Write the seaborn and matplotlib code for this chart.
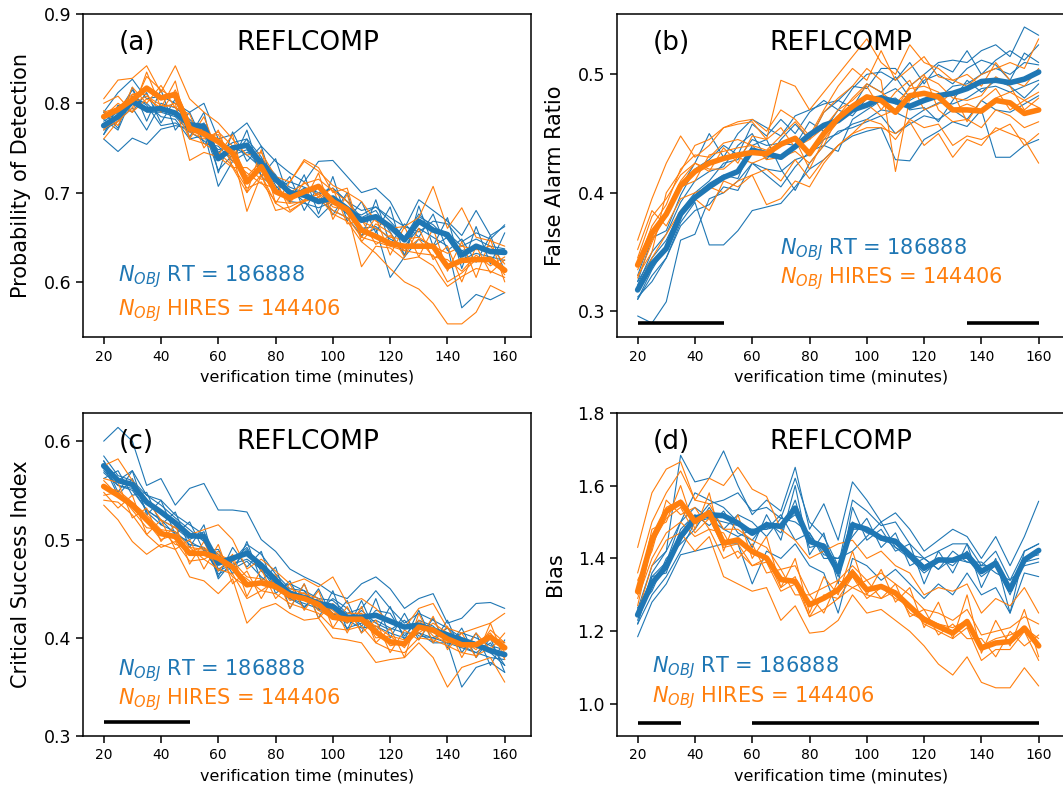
import matplotlib
matplotlib.use("Agg")
import matplotlib.pyplot as plt
import seaborn as sns
import pandas as pd

# ---------------------------------------------------------------- data
times = list(range(20, 161, 5))
runs = ["RT", "HIRES"]
run_colors = {"RT": "#1f77b4", "HIRES": "#ff7f0e"}
panel_tags = ["(a)", "(b)", "(c)", "(d)"]
field_name = "REFLCOMP"
ylabels = ["Probability of Detection", "False Alarm Ratio",
           "Critical Success Index", "Bias"]
xlabel = "verification time (minutes)"
n_obj = {"RT": 186888, "HIRES": 144406}

# ----- (a) probability of detection
pod_rt_mean = [0.775, 0.785, 0.802, 0.793, 0.794, 0.789, 0.776, 0.774, 0.738, 0.750,
               0.753, 0.733, 0.715, 0.700, 0.697, 0.690, 0.694, 0.682, 0.669, 0.673,
               0.662, 0.647, 0.668, 0.658, 0.653, 0.630, 0.640, 0.634, 0.633]
pod_hires_mean = [0.785, 0.793, 0.804, 0.817, 0.806, 0.810, 0.772, 0.766, 0.757, 0.744,
                  0.712, 0.729, 0.701, 0.694, 0.701, 0.707, 0.690, 0.681, 0.658, 0.651,
                  0.643, 0.640, 0.640, 0.640, 0.617, 0.624, 0.625, 0.625, 0.613]
pod_rt_members = [
    [0.760, 0.746, 0.761, 0.754, 0.771, 0.775, 0.772, 0.770, 0.725, 0.742, 0.748, 0.726, 0.712, 0.703, 0.690, 0.672, 0.688, 0.680, 0.675, 0.684, 0.668, 0.650, 0.676, 0.660, 0.655, 0.640, 0.648, 0.640, 0.637],
    [0.790, 0.812, 0.827, 0.805, 0.808, 0.800, 0.790, 0.800, 0.760, 0.765, 0.778, 0.752, 0.735, 0.722, 0.712, 0.735, 0.736, 0.718, 0.700, 0.705, 0.690, 0.660, 0.692, 0.680, 0.668, 0.652, 0.680, 0.652, 0.662],
    [0.770, 0.780, 0.795, 0.770, 0.800, 0.795, 0.782, 0.768, 0.707, 0.735, 0.745, 0.738, 0.720, 0.695, 0.705, 0.698, 0.705, 0.690, 0.672, 0.680, 0.656, 0.630, 0.673, 0.664, 0.648, 0.625, 0.632, 0.628, 0.624],
    [0.780, 0.790, 0.815, 0.790, 0.790, 0.785, 0.768, 0.778, 0.745, 0.756, 0.760, 0.740, 0.708, 0.690, 0.688, 0.683, 0.690, 0.676, 0.660, 0.662, 0.648, 0.640, 0.660, 0.650, 0.640, 0.571, 0.586, 0.580, 0.588],
    [0.765, 0.788, 0.805, 0.800, 0.785, 0.782, 0.760, 0.764, 0.748, 0.752, 0.742, 0.728, 0.718, 0.706, 0.700, 0.692, 0.680, 0.672, 0.652, 0.660, 0.605, 0.628, 0.648, 0.640, 0.650, 0.635, 0.640, 0.636, 0.636],
    [0.790, 0.772, 0.818, 0.780, 0.815, 0.770, 0.790, 0.755, 0.752, 0.735, 0.770, 0.718, 0.738, 0.690, 0.720, 0.676, 0.718, 0.668, 0.690, 0.655, 0.684, 0.628, 0.685, 0.640, 0.672, 0.615, 0.662, 0.620, 0.655],
    [0.765, 0.798, 0.790, 0.812, 0.778, 0.805, 0.762, 0.790, 0.722, 0.768, 0.735, 0.752, 0.700, 0.718, 0.680, 0.708, 0.675, 0.700, 0.650, 0.692, 0.642, 0.665, 0.650, 0.676, 0.635, 0.648, 0.622, 0.652, 0.612],
    [0.782, 0.770, 0.808, 0.798, 0.775, 0.778, 0.768, 0.758, 0.745, 0.740, 0.760, 0.718, 0.705, 0.712, 0.706, 0.700, 0.705, 0.690, 0.680, 0.684, 0.672, 0.662, 0.656, 0.668, 0.665, 0.645, 0.655, 0.648, 0.664],
]
pod_hires_members = [
    [0.805, 0.826, 0.828, 0.842, 0.812, 0.842, 0.805, 0.790, 0.778, 0.760, 0.742, 0.745, 0.718, 0.712, 0.735, 0.724, 0.708, 0.700, 0.690, 0.668, 0.660, 0.662, 0.672, 0.707, 0.660, 0.683, 0.650, 0.646, 0.640],
    [0.770, 0.788, 0.800, 0.808, 0.798, 0.796, 0.760, 0.755, 0.745, 0.730, 0.705, 0.712, 0.690, 0.688, 0.690, 0.695, 0.676, 0.668, 0.645, 0.632, 0.615, 0.600, 0.592, 0.576, 0.553, 0.553, 0.566, 0.596, 0.588],
    [0.760, 0.780, 0.795, 0.830, 0.815, 0.805, 0.775, 0.770, 0.760, 0.745, 0.679, 0.720, 0.688, 0.678, 0.690, 0.700, 0.684, 0.680, 0.617, 0.640, 0.638, 0.625, 0.628, 0.618, 0.595, 0.606, 0.615, 0.612, 0.605],
    [0.790, 0.795, 0.810, 0.815, 0.808, 0.812, 0.768, 0.760, 0.768, 0.752, 0.718, 0.735, 0.712, 0.700, 0.710, 0.715, 0.702, 0.690, 0.668, 0.660, 0.650, 0.648, 0.650, 0.640, 0.632, 0.640, 0.636, 0.640, 0.620],
    [0.785, 0.800, 0.790, 0.805, 0.795, 0.800, 0.736, 0.745, 0.740, 0.728, 0.700, 0.720, 0.680, 0.684, 0.692, 0.698, 0.680, 0.672, 0.650, 0.645, 0.640, 0.635, 0.632, 0.630, 0.600, 0.610, 0.625, 0.628, 0.608],
    [0.800, 0.808, 0.790, 0.835, 0.795, 0.825, 0.760, 0.785, 0.742, 0.765, 0.700, 0.748, 0.688, 0.712, 0.737, 0.728, 0.700, 0.705, 0.650, 0.672, 0.630, 0.662, 0.628, 0.660, 0.612, 0.645, 0.605, 0.648, 0.600],
    [0.772, 0.780, 0.818, 0.800, 0.820, 0.795, 0.788, 0.750, 0.770, 0.728, 0.728, 0.715, 0.715, 0.680, 0.690, 0.722, 0.670, 0.698, 0.645, 0.665, 0.655, 0.628, 0.660, 0.625, 0.640, 0.600, 0.640, 0.610, 0.625],
    [0.792, 0.775, 0.810, 0.810, 0.790, 0.815, 0.780, 0.762, 0.765, 0.735, 0.722, 0.710, 0.705, 0.688, 0.712, 0.695, 0.705, 0.665, 0.670, 0.642, 0.652, 0.635, 0.648, 0.628, 0.625, 0.612, 0.630, 0.618, 0.628],
]

# ----- (b) false alarm ratio
far_rt_mean = [0.318, 0.340, 0.353, 0.382, 0.396, 0.405, 0.413, 0.418, 0.436, 0.433,
               0.430, 0.439, 0.449, 0.457, 0.461, 0.470, 0.474, 0.480, 0.477, 0.473,
               0.478, 0.482, 0.484, 0.488, 0.494, 0.495, 0.493, 0.496, 0.502]
far_hires_mean = [0.339, 0.366, 0.382, 0.406, 0.418, 0.425, 0.429, 0.432, 0.434, 0.433,
                  0.441, 0.446, 0.433, 0.450, 0.463, 0.473, 0.481, 0.478, 0.468, 0.482,
                  0.484, 0.481, 0.470, 0.470, 0.469, 0.478, 0.476, 0.467, 0.470]
far_rt_members = [
    [0.296, 0.290, 0.308, 0.360, 0.365, 0.395, 0.400, 0.410, 0.425, 0.420, 0.418, 0.428, 0.432, 0.445, 0.450, 0.458, 0.462, 0.470, 0.468, 0.462, 0.470, 0.476, 0.475, 0.480, 0.488, 0.490, 0.485, 0.490, 0.495],
    [0.312, 0.325, 0.345, 0.375, 0.392, 0.356, 0.356, 0.368, 0.385, 0.388, 0.391, 0.405, 0.420, 0.428, 0.440, 0.448, 0.452, 0.455, 0.428, 0.427, 0.445, 0.452, 0.460, 0.456, 0.470, 0.430, 0.430, 0.440, 0.445],
    [0.330, 0.365, 0.380, 0.405, 0.425, 0.450, 0.430, 0.450, 0.462, 0.455, 0.448, 0.465, 0.470, 0.475, 0.478, 0.490, 0.488, 0.505, 0.505, 0.490, 0.500, 0.510, 0.512, 0.510, 0.520, 0.525, 0.515, 0.540, 0.533],
    [0.325, 0.345, 0.360, 0.385, 0.400, 0.410, 0.425, 0.428, 0.445, 0.440, 0.442, 0.440, 0.460, 0.452, 0.470, 0.465, 0.480, 0.482, 0.488, 0.478, 0.485, 0.480, 0.490, 0.492, 0.500, 0.505, 0.500, 0.510, 0.508],
    [0.310, 0.335, 0.355, 0.380, 0.398, 0.408, 0.415, 0.412, 0.440, 0.445, 0.420, 0.402, 0.425, 0.440, 0.435, 0.462, 0.470, 0.478, 0.480, 0.470, 0.472, 0.460, 0.478, 0.495, 0.485, 0.495, 0.490, 0.480, 0.492],
    [0.325, 0.362, 0.368, 0.398, 0.420, 0.428, 0.440, 0.432, 0.458, 0.448, 0.462, 0.450, 0.468, 0.478, 0.470, 0.488, 0.500, 0.502, 0.495, 0.510, 0.492, 0.508, 0.502, 0.520, 0.500, 0.512, 0.520, 0.512, 0.525],
    [0.310, 0.330, 0.345, 0.372, 0.385, 0.390, 0.405, 0.402, 0.425, 0.415, 0.405, 0.422, 0.435, 0.440, 0.452, 0.455, 0.460, 0.465, 0.450, 0.458, 0.465, 0.462, 0.470, 0.462, 0.478, 0.470, 0.468, 0.475, 0.482],
    [0.322, 0.350, 0.365, 0.392, 0.410, 0.418, 0.422, 0.440, 0.450, 0.428, 0.445, 0.458, 0.445, 0.468, 0.478, 0.472, 0.492, 0.485, 0.498, 0.480, 0.495, 0.500, 0.492, 0.505, 0.512, 0.508, 0.495, 0.518, 0.510],
]
far_hires_members = [
    [0.360, 0.395, 0.425, 0.448, 0.430, 0.440, 0.455, 0.458, 0.460, 0.445, 0.495, 0.490, 0.470, 0.485, 0.500, 0.515, 0.530, 0.510, 0.500, 0.525, 0.510, 0.505, 0.495, 0.490, 0.500, 0.505, 0.510, 0.505, 0.530],
    [0.340, 0.372, 0.390, 0.420, 0.432, 0.430, 0.442, 0.445, 0.440, 0.436, 0.448, 0.460, 0.445, 0.468, 0.480, 0.490, 0.505, 0.495, 0.418, 0.480, 0.498, 0.492, 0.480, 0.478, 0.482, 0.498, 0.490, 0.470, 0.480],
    [0.320, 0.345, 0.365, 0.385, 0.395, 0.385, 0.410, 0.405, 0.415, 0.390, 0.395, 0.410, 0.405, 0.425, 0.440, 0.450, 0.455, 0.455, 0.450, 0.460, 0.440, 0.450, 0.430, 0.445, 0.440, 0.455, 0.450, 0.445, 0.425],
    [0.345, 0.380, 0.395, 0.415, 0.425, 0.420, 0.420, 0.430, 0.425, 0.430, 0.440, 0.445, 0.420, 0.445, 0.460, 0.470, 0.475, 0.465, 0.470, 0.490, 0.500, 0.470, 0.460, 0.462, 0.455, 0.470, 0.465, 0.455, 0.460],
    [0.335, 0.360, 0.380, 0.405, 0.410, 0.432, 0.435, 0.438, 0.440, 0.428, 0.430, 0.435, 0.425, 0.440, 0.465, 0.480, 0.492, 0.485, 0.475, 0.488, 0.490, 0.485, 0.470, 0.475, 0.470, 0.480, 0.485, 0.478, 0.472],
    [0.330, 0.350, 0.400, 0.418, 0.440, 0.445, 0.455, 0.460, 0.462, 0.452, 0.470, 0.462, 0.448, 0.470, 0.490, 0.505, 0.495, 0.520, 0.495, 0.505, 0.515, 0.498, 0.495, 0.500, 0.490, 0.510, 0.495, 0.490, 0.505],
    [0.352, 0.385, 0.372, 0.395, 0.400, 0.405, 0.400, 0.410, 0.415, 0.420, 0.410, 0.428, 0.412, 0.428, 0.440, 0.450, 0.462, 0.458, 0.445, 0.462, 0.455, 0.458, 0.440, 0.448, 0.445, 0.452, 0.458, 0.440, 0.450],
    [0.328, 0.358, 0.385, 0.410, 0.425, 0.418, 0.438, 0.425, 0.448, 0.445, 0.455, 0.438, 0.445, 0.455, 0.470, 0.478, 0.490, 0.470, 0.485, 0.495, 0.470, 0.475, 0.485, 0.460, 0.478, 0.488, 0.470, 0.478, 0.485],
]

# ----- (c) critical success index
csi_rt_mean = [0.575, 0.560, 0.556, 0.538, 0.528, 0.517, 0.504, 0.503, 0.476, 0.481,
               0.486, 0.474, 0.459, 0.445, 0.441, 0.435, 0.432, 0.421, 0.421, 0.423,
               0.417, 0.411, 0.413, 0.408, 0.403, 0.398, 0.393, 0.387, 0.383]
csi_hires_mean = [0.554, 0.545, 0.535, 0.520, 0.506, 0.503, 0.486, 0.486, 0.481, 0.472,
                  0.454, 0.456, 0.452, 0.443, 0.440, 0.434, 0.421, 0.419, 0.419, 0.406,
                  0.396, 0.394, 0.411, 0.408, 0.399, 0.393, 0.393, 0.401, 0.390]
csi_rt_members = [
    [0.600, 0.614, 0.600, 0.555, 0.562, 0.535, 0.552, 0.557, 0.530, 0.530, 0.528, 0.500, 0.488, 0.470, 0.462, 0.455, 0.445, 0.440, 0.455, 0.462, 0.450, 0.430, 0.440, 0.445, 0.415, 0.420, 0.435, 0.436, 0.430],
    [0.580, 0.560, 0.570, 0.545, 0.540, 0.525, 0.515, 0.505, 0.460, 0.478, 0.495, 0.485, 0.465, 0.450, 0.448, 0.440, 0.438, 0.425, 0.430, 0.448, 0.430, 0.415, 0.425, 0.418, 0.410, 0.400, 0.395, 0.385, 0.372],
    [0.570, 0.555, 0.550, 0.530, 0.520, 0.505, 0.498, 0.490, 0.468, 0.475, 0.480, 0.470, 0.450, 0.440, 0.435, 0.430, 0.425, 0.410, 0.415, 0.418, 0.410, 0.405, 0.405, 0.395, 0.395, 0.350, 0.370, 0.375, 0.365],
    [0.575, 0.545, 0.562, 0.528, 0.515, 0.508, 0.495, 0.492, 0.465, 0.472, 0.490, 0.468, 0.455, 0.448, 0.442, 0.428, 0.430, 0.418, 0.410, 0.412, 0.405, 0.400, 0.405, 0.400, 0.395, 0.390, 0.385, 0.380, 0.378],
    [0.580, 0.548, 0.570, 0.525, 0.540, 0.505, 0.518, 0.488, 0.490, 0.465, 0.498, 0.458, 0.472, 0.430, 0.455, 0.420, 0.448, 0.408, 0.438, 0.405, 0.432, 0.398, 0.428, 0.395, 0.418, 0.385, 0.405, 0.372, 0.398],
    [0.562, 0.570, 0.545, 0.548, 0.515, 0.528, 0.492, 0.515, 0.462, 0.492, 0.472, 0.488, 0.445, 0.458, 0.430, 0.450, 0.420, 0.438, 0.405, 0.440, 0.400, 0.425, 0.398, 0.420, 0.390, 0.410, 0.380, 0.400, 0.365],
    [0.585, 0.565, 0.560, 0.545, 0.535, 0.522, 0.510, 0.498, 0.485, 0.470, 0.478, 0.462, 0.450, 0.455, 0.448, 0.428, 0.440, 0.430, 0.412, 0.428, 0.425, 0.402, 0.418, 0.412, 0.398, 0.405, 0.400, 0.392, 0.388],
    [0.568, 0.555, 0.552, 0.530, 0.520, 0.512, 0.500, 0.508, 0.470, 0.478, 0.492, 0.468, 0.462, 0.440, 0.432, 0.440, 0.425, 0.415, 0.428, 0.415, 0.408, 0.418, 0.402, 0.400, 0.410, 0.392, 0.385, 0.395, 0.372],
]
csi_hires_members = [
    [0.575, 0.582, 0.560, 0.540, 0.520, 0.512, 0.505, 0.510, 0.515, 0.500, 0.470, 0.480, 0.468, 0.455, 0.460, 0.452, 0.462, 0.435, 0.440, 0.430, 0.415, 0.410, 0.430, 0.435, 0.410, 0.405, 0.410, 0.415, 0.425],
    [0.535, 0.520, 0.498, 0.485, 0.495, 0.490, 0.462, 0.458, 0.445, 0.460, 0.415, 0.430, 0.435, 0.425, 0.418, 0.420, 0.400, 0.398, 0.395, 0.375, 0.378, 0.380, 0.395, 0.380, 0.350, 0.370, 0.375, 0.380, 0.355],
    [0.548, 0.532, 0.545, 0.505, 0.520, 0.490, 0.500, 0.470, 0.495, 0.455, 0.468, 0.440, 0.465, 0.430, 0.455, 0.420, 0.435, 0.405, 0.432, 0.395, 0.410, 0.380, 0.425, 0.395, 0.412, 0.380, 0.405, 0.388, 0.405],
    [0.562, 0.558, 0.522, 0.532, 0.498, 0.515, 0.475, 0.498, 0.468, 0.485, 0.442, 0.470, 0.440, 0.455, 0.428, 0.448, 0.410, 0.432, 0.405, 0.418, 0.385, 0.408, 0.398, 0.422, 0.388, 0.405, 0.380, 0.415, 0.378],
    [0.540, 0.538, 0.525, 0.505, 0.492, 0.498, 0.478, 0.480, 0.470, 0.465, 0.440, 0.448, 0.445, 0.435, 0.430, 0.425, 0.410, 0.408, 0.412, 0.395, 0.388, 0.385, 0.400, 0.398, 0.392, 0.385, 0.382, 0.390, 0.380],
    [0.545, 0.548, 0.530, 0.512, 0.510, 0.495, 0.492, 0.480, 0.488, 0.470, 0.460, 0.448, 0.458, 0.438, 0.442, 0.438, 0.428, 0.415, 0.425, 0.400, 0.402, 0.390, 0.418, 0.402, 0.395, 0.398, 0.388, 0.408, 0.395],
    [0.552, 0.550, 0.538, 0.525, 0.510, 0.508, 0.492, 0.490, 0.485, 0.478, 0.462, 0.460, 0.455, 0.450, 0.445, 0.440, 0.425, 0.422, 0.420, 0.412, 0.402, 0.398, 0.412, 0.410, 0.402, 0.398, 0.395, 0.402, 0.395],
    [0.560, 0.545, 0.535, 0.518, 0.500, 0.505, 0.488, 0.492, 0.482, 0.462, 0.452, 0.458, 0.455, 0.442, 0.446, 0.428, 0.420, 0.425, 0.425, 0.410, 0.392, 0.395, 0.405, 0.415, 0.405, 0.398, 0.395, 0.405, 0.385],
]

# ----- (d) frequency bias
bias_rt_mean = [1.245, 1.332, 1.378, 1.460, 1.511, 1.520, 1.517, 1.497, 1.469, 1.492,
                1.488, 1.538, 1.447, 1.433, 1.364, 1.492, 1.480, 1.456, 1.447, 1.410,
                1.373, 1.396, 1.395, 1.410, 1.364, 1.387, 1.314, 1.396, 1.422]
bias_hires_mean = [1.309, 1.451, 1.529, 1.554, 1.501, 1.526, 1.442, 1.451, 1.419, 1.401,
                   1.342, 1.337, 1.273, 1.291, 1.314, 1.360, 1.314, 1.323, 1.305, 1.268,
                   1.232, 1.213, 1.195, 1.227, 1.154, 1.168, 1.172, 1.209, 1.160]
bias_rt_members = [
    [1.260, 1.380, 1.420, 1.683, 1.610, 1.620, 1.695, 1.600, 1.520, 1.560, 1.530, 1.650, 1.480, 1.550, 1.450, 1.610, 1.560, 1.500, 1.525, 1.480, 1.420, 1.450, 1.480, 1.460, 1.400, 1.460, 1.380, 1.460, 1.557],
    [1.220, 1.300, 1.350, 1.420, 1.500, 1.550, 1.560, 1.580, 1.530, 1.540, 1.510, 1.620, 1.500, 1.460, 1.380, 1.560, 1.530, 1.490, 1.500, 1.440, 1.400, 1.420, 1.440, 1.440, 1.380, 1.420, 1.340, 1.420, 1.440],
    [1.185, 1.280, 1.330, 1.410, 1.420, 1.430, 1.440, 1.440, 1.330, 1.420, 1.400, 1.440, 1.380, 1.360, 1.250, 1.400, 1.380, 1.340, 1.370, 1.330, 1.290, 1.330, 1.300, 1.360, 1.300, 1.320, 1.250, 1.360, 1.350],
    [1.230, 1.360, 1.420, 1.500, 1.580, 1.560, 1.540, 1.500, 1.430, 1.520, 1.450, 1.600, 1.410, 1.470, 1.330, 1.540, 1.450, 1.480, 1.420, 1.440, 1.330, 1.420, 1.360, 1.440, 1.320, 1.400, 1.250, 1.420, 1.440],
    [1.265, 1.310, 1.400, 1.440, 1.480, 1.540, 1.480, 1.520, 1.500, 1.460, 1.510, 1.500, 1.470, 1.400, 1.400, 1.460, 1.510, 1.430, 1.470, 1.380, 1.400, 1.370, 1.420, 1.390, 1.390, 1.360, 1.340, 1.380, 1.390],
    [1.220, 1.350, 1.360, 1.480, 1.520, 1.490, 1.530, 1.470, 1.450, 1.500, 1.470, 1.560, 1.430, 1.440, 1.350, 1.500, 1.470, 1.460, 1.430, 1.400, 1.360, 1.390, 1.400, 1.400, 1.350, 1.380, 1.300, 1.400, 1.410],
    [1.250, 1.320, 1.390, 1.450, 1.500, 1.510, 1.500, 1.490, 1.480, 1.480, 1.490, 1.520, 1.460, 1.420, 1.370, 1.480, 1.480, 1.450, 1.440, 1.410, 1.380, 1.400, 1.380, 1.420, 1.360, 1.390, 1.320, 1.390, 1.420],
    [1.250, 1.350, 1.390, 1.500, 1.540, 1.510, 1.480, 1.460, 1.480, 1.480, 1.520, 1.450, 1.470, 1.410, 1.400, 1.420, 1.460, 1.500, 1.430, 1.410, 1.400, 1.370, 1.400, 1.390, 1.380, 1.380, 1.320, 1.390, 1.400],
]
bias_hires_members = [
    [1.430, 1.580, 1.645, 1.665, 1.560, 1.620, 1.600, 1.650, 1.590, 1.570, 1.480, 1.450, 1.400, 1.420, 1.440, 1.450, 1.400, 1.420, 1.380, 1.360, 1.300, 1.320, 1.310, 1.330, 1.250, 1.290, 1.270, 1.320, 1.250],
    [1.360, 1.500, 1.580, 1.640, 1.560, 1.550, 1.480, 1.480, 1.450, 1.430, 1.370, 1.380, 1.300, 1.320, 1.340, 1.380, 1.340, 1.360, 1.330, 1.300, 1.260, 1.250, 1.230, 1.260, 1.190, 1.200, 1.210, 1.240, 1.220],
    [1.250, 1.380, 1.450, 1.470, 1.420, 1.460, 1.350, 1.330, 1.310, 1.320, 1.230, 1.270, 1.195, 1.200, 1.230, 1.300, 1.250, 1.260, 1.230, 1.200, 1.160, 1.110, 1.080, 1.130, 1.060, 1.045, 1.045, 1.100, 1.050],
    [1.300, 1.480, 1.500, 1.600, 1.480, 1.580, 1.420, 1.520, 1.400, 1.460, 1.320, 1.400, 1.250, 1.350, 1.300, 1.420, 1.300, 1.370, 1.280, 1.320, 1.210, 1.280, 1.180, 1.300, 1.140, 1.230, 1.160, 1.260, 1.130],
    [1.340, 1.420, 1.560, 1.520, 1.540, 1.480, 1.470, 1.400, 1.440, 1.360, 1.370, 1.300, 1.300, 1.250, 1.340, 1.320, 1.340, 1.290, 1.330, 1.240, 1.260, 1.190, 1.220, 1.180, 1.180, 1.130, 1.200, 1.160, 1.190],
    [1.270, 1.440, 1.510, 1.540, 1.470, 1.510, 1.430, 1.440, 1.380, 1.400, 1.320, 1.350, 1.240, 1.300, 1.290, 1.350, 1.290, 1.320, 1.290, 1.270, 1.220, 1.200, 1.180, 1.210, 1.120, 1.150, 1.150, 1.200, 1.120],
    [1.315, 1.460, 1.540, 1.560, 1.510, 1.530, 1.450, 1.450, 1.420, 1.400, 1.350, 1.330, 1.280, 1.290, 1.320, 1.370, 1.320, 1.320, 1.310, 1.270, 1.240, 1.220, 1.200, 1.230, 1.160, 1.170, 1.170, 1.210, 1.160],
    [1.290, 1.400, 1.470, 1.500, 1.460, 1.480, 1.400, 1.420, 1.380, 1.390, 1.310, 1.330, 1.240, 1.260, 1.290, 1.320, 1.300, 1.290, 1.310, 1.250, 1.230, 1.220, 1.210, 1.230, 1.160, 1.180, 1.190, 1.210, 1.180],
]

# significance bars: (level, [(start, end), ...]) per panel
sig_bars = [
    None,
    (0.290, [(20, 50), (135, 160)]),
    (0.3146, [(20, 50)]),
    (0.949, [(20, 35), (60, 160)]),
]

yticks = [[0.6, 0.7, 0.8, 0.9], [0.3, 0.4, 0.5], [0.3, 0.4, 0.5, 0.6],
          [1.0, 1.2, 1.4, 1.6, 1.8]]
ylims = [(0.538, 0.9), (0.278, 0.551), (0.3, 0.629), (0.912, 1.8)]
xticks = list(range(20, 161, 20))
xlim = (12.9, 169.3)

panels = [
    (pod_rt_mean, pod_hires_mean, pod_rt_members, pod_hires_members),
    (far_rt_mean, far_hires_mean, far_rt_members, far_hires_members),
    (csi_rt_mean, csi_hires_mean, csi_rt_members, csi_hires_members),
    (bias_rt_mean, bias_hires_mean, bias_rt_members, bias_hires_members),
]

# text anchor positions (axes fraction)
annot_xy = [(0.078, 0.187, 0.084), (0.363, 0.270, 0.180),
            (0.078, 0.204, 0.113), (0.077, 0.212, 0.121)]


def long_members(rt_members, hires_members):
    rows = []
    for run, members in (("RT", rt_members), ("HIRES", hires_members)):
        for k, vals in enumerate(members):
            for t, v in zip(times, vals):
                rows.append({"time": t, "value": v, "run": run, "member": k})
    return pd.DataFrame(rows)


def long_means(rt_mean, hires_mean):
    rows = []
    for run, vals in (("RT", rt_mean), ("HIRES", hires_mean)):
        for t, v in zip(times, vals):
            rows.append({"time": t, "value": v, "run": run})
    return pd.DataFrame(rows)


# ---------------------------------------------------------------- figure
sns.set_style("ticks")
plt.rcParams.update({
    "font.family": ["DejaVu Sans"],
    "text.color": "black",
    "axes.labelcolor": "black",
    "axes.linewidth": 1.1,
    "xtick.major.size": 5.3,
    "ytick.major.size": 5.3,
    "xtick.major.width": 1.1,
    "ytick.major.width": 1.1,
    "xtick.direction": "out",
    "ytick.direction": "out",
    "xtick.color": "black",
    "ytick.color": "black",
    "axes.edgecolor": "black",
})

fig = plt.figure(figsize=(10.63, 7.94), dpi=100)
positions = [
    [0.0784, 0.5752, 0.4215, 0.4072],
    [0.5807, 0.5752, 0.4215, 0.4072],
    [0.0784, 0.0727, 0.4215, 0.4076],
    [0.5807, 0.0727, 0.4215, 0.4076],
]

for i, (rt_mean, hires_mean, rt_mem, hires_mem) in enumerate(panels):
    ax = fig.add_axes(positions[i])
    members_df = long_members(rt_mem, hires_mem)
    means_df = long_means(rt_mean, hires_mean)

    sns.lineplot(data=members_df, x="time", y="value", hue="run", units="member",
                 estimator=None, palette=run_colors, hue_order=runs,
                 linewidth=0.8, legend=False, ax=ax)
    sns.lineplot(data=means_df, x="time", y="value", hue="run",
                 palette=run_colors, hue_order=runs, errorbar=None,
                 linewidth=4.0, legend=False, ax=ax)

    if sig_bars[i] is not None:
        level, spans = sig_bars[i]
        for start, end in spans:
            ax.plot([start, end], [level, level], color="black", lw=2.6,
                    solid_capstyle="butt")

    for side in ("top", "right", "left", "bottom"):
        ax.spines[side].set_visible(True)
        ax.spines[side].set_linewidth(1.1)

    ax.set_xlim(*xlim)
    ax.set_ylim(*ylims[i])
    ax.set_xticks(xticks)
    ax.set_yticks(yticks[i])
    ax.set_yticklabels([f"{v:.1f}" for v in yticks[i]])
    ax.tick_params(axis="x", labelsize=10, colors="black")
    ax.tick_params(axis="y", labelsize=12.5, colors="black")
    ax.set_xlabel(xlabel, fontsize=11.5, color="black")
    ax.set_ylabel(ylabels[i], fontsize=15, color="black", labelpad=9)

    ax.text(0.08, 0.91, panel_tags[i], transform=ax.transAxes,
            fontsize=19, va="center", ha="left", color="black")
    ax.text(0.5, 0.91, field_name, transform=ax.transAxes,
            fontsize=19, va="center", ha="center", color="black")

    ax_x, y1, y2 = annot_xy[i]
    ax.text(ax_x, y1, r"$N_{OBJ}$ RT = " + str(n_obj["RT"]),
            transform=ax.transAxes, color=run_colors["RT"], fontsize=15,
            va="center", ha="left")
    ax.text(ax_x, y2, r"$N_{OBJ}$ HIRES = " + str(n_obj["HIRES"]),
            transform=ax.transAxes, color=run_colors["HIRES"], fontsize=15,
            va="center", ha="left")

fig.savefig("out.png", dpi=100)
